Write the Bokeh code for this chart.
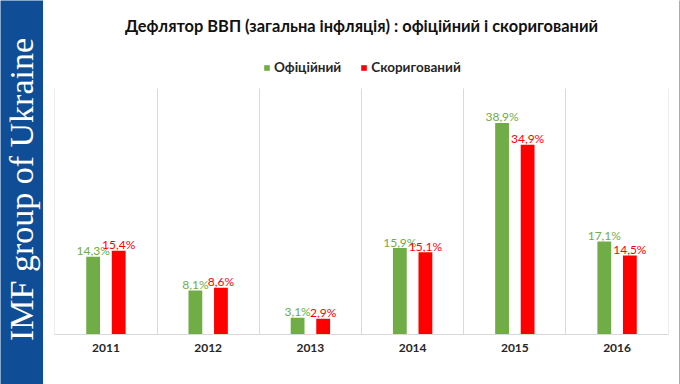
import math
from bokeh.plotting import figure
from bokeh.models import (ColumnDataSource, Label, Legend, LegendItem,
                          FixedTicker, FactorRange, Range1d)
from bokeh.layouts import row
from bokeh.transform import dodge
from bokeh.core.properties import value
from bokeh.embed import file_html
from bokeh.resources import INLINE

# ---- data ----
years = ["2011", "2012", "2013", "2014", "2015", "2016"]
official = [14.3, 8.1, 3.1, 15.9, 38.9, 17.1]
adjusted = [15.4, 8.6, 2.9, 15.1, 34.9, 14.5]
series_names = ["Офіційний", "Скоригований"]
title_text = "Дефлятор ВВП (загальна інфляція) : офіційний і скоригований"
band_text = "IMF group of Ukraine"

GREEN = "#70AD47"
RED = "#FF0000"
BLUE = "#0F4E97"
GRID = "#D9D9D9"

Y_TOP = 45.2      # value at the top of the plotting area
Y_FRAME = 61.4    # frame extends upward to hold title and legend


def fmt(v):
    return f"{v:.1f}%".replace(".", ",")


src = ColumnDataSource(dict(
    year=years, off=official, adj=adjusted,
    off_lbl=[fmt(v) for v in official],
    adj_lbl=[fmt(v) for v in adjusted],
))

# ---- left blue band ----
band = figure(width=43, height=384, output_backend="svg", toolbar_location=None,
              x_axis_location=None, y_axis_location=None, min_border=0,
              x_range=(0, 1), y_range=(0, 1))
band.frame_align = False
band.background_fill_color = BLUE
band.border_fill_color = BLUE
band.outline_line_color = None
band.xgrid.grid_line_color = None
band.ygrid.grid_line_color = None
band.add_layout(Label(x=21, y=195, x_units="screen", y_units="screen",
                      text=band_text, angle=math.pi / 2,
                      text_align="center", text_baseline="middle",
                      text_color="white", text_font="Liberation Serif",
                      text_font_size="34px"))

# ---- main chart ----
p = figure(width=636, height=384, output_backend="svg", toolbar_location=None,
           x_range=FactorRange(factors=years, range_padding=0.001),
           y_range=Range1d(0, Y_FRAME), y_axis_location=None,
           min_border_left=11, min_border_right=11,
           min_border_top=0, min_border_bottom=50)
p.frame_align = False
p.outline_line_color = None
p.background_fill_color = "white"
p.border_fill_color = "white"

r_off = p.vbar(x=dodge("year", -0.125, range=p.x_range), top="off", width=0.135,
               source=src, fill_color=GREEN, line_color=None)
r_adj = p.vbar(x=dodge("year", 0.125, range=p.x_range), top="adj", width=0.135,
               source=src, fill_color=RED, line_color=None)

p.text(x=dodge("year", -0.125, range=p.x_range), y="off", text="off_lbl",
       source=src, text_align="center", text_baseline="alphabetic", y_offset=-6,
       text_color=GREEN, text_font=value("Lato"), text_font_size="12px")
p.text(x=dodge("year", 0.125, range=p.x_range), y="adj", text="adj_lbl",
       source=src, text_align="center", text_baseline="alphabetic", y_offset=-6,
       text_color=RED, text_font=value("Lato"), text_font_size="12px")

g = p.xgrid[0]
g.ticker = FixedTicker(ticks=list(range(len(years) + 1)))
g.grid_line_color = GRID
if "cross_bounds" in g.properties():
    g.cross_bounds = (0, Y_TOP)
p.ygrid.grid_line_color = None

ax = p.xaxis[0]
ax.axis_line_color = GRID
ax.major_tick_line_color = None
ax.minor_tick_line_color = None
ax.major_tick_out = 0
ax.major_label_standoff = 9
ax.major_label_text_font = "Lato"
ax.major_label_text_font_size = "12px"
ax.major_label_text_font_style = "bold"
ax.major_label_text_color = "#262626"

p.add_layout(Label(x=307, y=309, x_units="screen", y_units="screen",
                   text=title_text, text_align="center", text_baseline="alphabetic",
                   text_font="Lato", text_font_style="bold", text_font_size="16.4px",
                   text_color="#111111"))

legend = Legend(items=[LegendItem(label=series_names[0], renderers=[r_off]),
                       LegendItem(label=series_names[1], renderers=[r_adj])],
                location=(209, 259), orientation="horizontal",
                padding=0, margin=0, spacing=19,
                glyph_width=7, glyph_height=7, label_standoff=4,
                label_text_font="Lato", label_text_font_style="bold",
                label_text_font_size="13.5px", label_text_color="#262626",
                border_line_color=None, background_fill_alpha=0)
p.add_layout(legend, "center")

# ---- thin slide border on the right ----
edge = figure(width=1, height=384, output_backend="svg", toolbar_location=None,
              x_axis_location=None, y_axis_location=None, min_border=0,
              x_range=(0, 1), y_range=(0, 1))
edge.frame_align = False
edge.background_fill_color = "#5A5A5A"
edge.border_fill_color = "#5A5A5A"
edge.outline_line_color = None
edge.xgrid.grid_line_color = None
edge.ygrid.grid_line_color = None

layout = row(band, p, edge, spacing=0)
open("out.html", "w").write(file_html(layout, INLINE))
